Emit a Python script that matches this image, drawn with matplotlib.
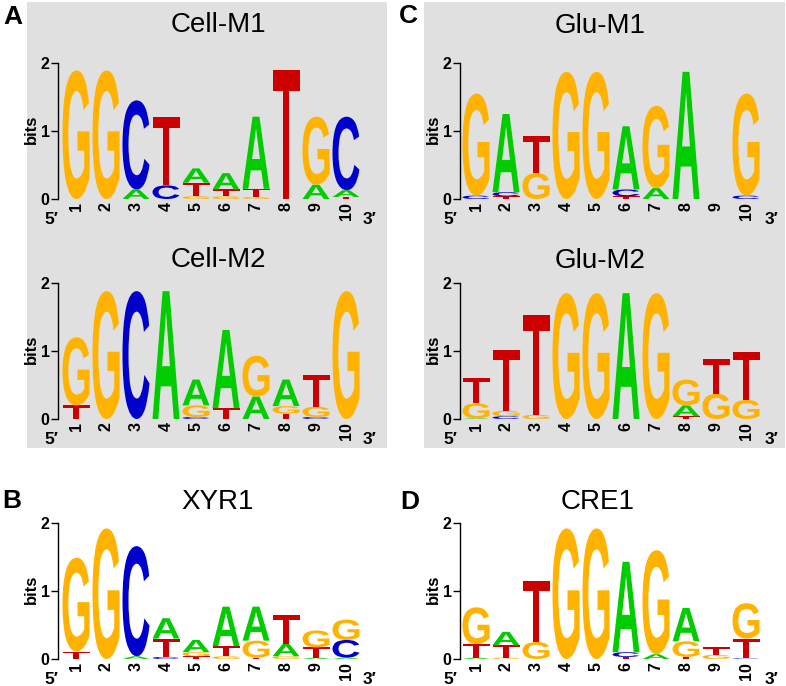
import matplotlib
matplotlib.use("Agg")
import matplotlib.pyplot as plt
from matplotlib.textpath import TextPath
from matplotlib.font_manager import FontProperties
from matplotlib.patches import PathPatch, Rectangle
from matplotlib.transforms import Affine2D

plt.rcParams['font.family'] = ['Liberation Sans', 'DejaVu Sans']

# ---- data: per-position letter stacks (bottom -> top), heights in bits ----
CELL_M1 = [
    [('G', 1.89)], [('G', 1.89)], [('A', 0.14), ('C', 1.31)], [('C', 0.20), ('T', 1.01)],
    [('G', 0.04), ('T', 0.20), ('A', 0.21)], [('G', 0.04), ('T', 0.10), ('A', 0.24)],
    [('G', 0.03), ('T', 0.12), ('A', 1.06)], [('T', 1.89)], [('A', 0.21), ('G', 1.00)],
    [('T', 0.03), ('A', 0.10), ('C', 1.08)],
]
CELL_M2 = [
    [('T', 0.20), ('G', 1.00)], [('G', 1.88)], [('C', 1.88)], [('A', 1.88)],
    [('C', 0.03), ('G', 0.17), ('A', 0.38)], [('T', 0.16), ('A', 1.15)],
    [('A', 0.33), ('G', 0.60)], [('T', 0.08), ('G', 0.11), ('A', 0.39)],
    [('C', 0.03), ('G', 0.15), ('T', 0.47)], [('G', 1.88)],
]
GLU_M1 = [
    [('C', 0.05), ('G', 1.50)], [('T', 0.04), ('C', 0.06), ('A', 1.15)],
    [('G', 0.38), ('T', 0.54)], [('G', 1.87)], [('G', 1.87)],
    [('T', 0.04), ('C', 0.10), ('A', 0.93)], [('A', 0.16), ('G', 1.21)],
    [('A', 1.87)], [], [('C', 0.05), ('G', 1.50)],
]
GLU_M2 = [
    [('A', 0.01), ('G', 0.22), ('T', 0.37)], [('C', 0.04), ('G', 0.08), ('T', 0.89)],
    [('G', 0.06), ('T', 1.47)], [('G', 1.85)], [('G', 1.85)], [('A', 1.85)], [('G', 1.85)],
    [('T', 0.04), ('A', 0.16), ('G', 0.38)], [('G', 0.37), ('T', 0.51)],
    [('G', 0.28), ('T', 0.70)],
]
XYR1 = [
    [('T', 0.11), ('G', 1.38)], [('G', 1.92)], [('A', 0.04), ('C', 1.62)],
    [('C', 0.03), ('T', 0.27), ('A', 0.30)], [('T', 0.04), ('G', 0.06), ('A', 0.18)],
    [('G', 0.04), ('T', 0.15), ('A', 0.58)], [('T', 0.02), ('G', 0.25), ('A', 0.50)],
    [('G', 0.04), ('A', 0.18), ('T', 0.43)], [('A', 0.02), ('T', 0.15), ('G', 0.25)],
    [('A', 0.02), ('C', 0.26), ('G', 0.30)],
]
CRE1 = [
    [('A', 0.02), ('T', 0.20), ('G', 0.54)], [('G', 0.02), ('T', 0.18), ('A', 0.20)],
    [('G', 0.25), ('T', 0.90)], [('G', 1.92)], [('G', 1.92)],
    [('T', 0.03), ('C', 0.07), ('A', 1.33)], [('A', 0.07), ('G', 1.53)],
    [('T', 0.03), ('G', 0.23), ('A', 0.49)], [('G', 0.06), ('T', 0.11)],
    [('C', 0.01), ('T', 0.29), ('G', 0.52)],
]
POSITIONS = [str(i) for i in range(1, 11)]
Y_TICKS = [0, 1, 2]

COLORS = {'A': '#00CC00', 'C': '#0000CC', 'G': '#FFB300', 'T': '#CC0000'}

W, H = 786, 686
fig = plt.figure(figsize=(W / 100, H / 100), dpi=100)
fig.patch.set_facecolor('white')


def fx(x):
    return x / W


def fy(y):
    return 1 - y / H


# gray backgrounds for panels A and C
for (x0, y0, x1, y1) in [(27, 2, 387, 448), (424, 2, 785, 448)]:
    fig.patches.append(Rectangle((fx(x0), fy(y1)), fx(x1 - x0), (y1 - y0) / H,
                                 transform=fig.transFigure, facecolor='#e0e0e0',
                                 edgecolor='none', zorder=-10))

FP = FontProperties(family='Liberation Sans', weight='bold')
_glyph_cache = {}


def glyph(letter):
    if letter not in _glyph_cache:
        p = TextPath((0, 0), letter, size=1, prop=FP)
        _glyph_cache[letter] = (p, p.get_extents())
    return _glyph_cache[letter]


def draw_letter(ax, letter, xc, y0, h, width=0.9):
    if h <= 0:
        return
    p, bb = glyph(letter)
    t = (Affine2D().translate(-bb.x0, -bb.y0)
         .scale(width / bb.width, h / bb.height)
         .translate(xc - width / 2, y0))
    ax.add_patch(PathPatch(t.transform_path(p), facecolor=COLORS[letter],
                           edgecolor='none', lw=0))


UNIT = 30.0   # px per position
BIT = 68.0    # px per bit


def logo(data, spine_x, center1_x, zero_y, title, title_x, title_y, prime5_x, prime3_x):
    xl = (spine_x - (center1_x - UNIT)) / UNIT
    xr = 10.6
    ytop = 2.05
    width = (xr - xl) * UNIT
    height = ytop * BIT
    ax = fig.add_axes([fx(spine_x), (H - zero_y) / H, width / W, height / H])
    ax.set_zorder(1)
    ax.set_xlim(xl, xr)
    ax.set_ylim(0, ytop)
    ax.patch.set_alpha(0)
    for s in ['top', 'right', 'bottom']:
        ax.spines[s].set_visible(False)
    ax.spines['left'].set_bounds(0, 2)
    ax.spines['left'].set_linewidth(1.0)
    ax.set_yticks(Y_TICKS)
    ax.set_yticklabels([str(v) for v in Y_TICKS], fontsize=11.5, fontweight='bold')
    ax.tick_params(axis='y', length=5, width=1.0, pad=1)
    ax.set_xticks(range(1, 11))
    ax.set_xticklabels(POSITIONS, rotation=90, fontsize=11.5, fontweight='bold')
    ax.tick_params(axis='x', length=0, pad=2)
    ax.set_ylabel('bits', fontsize=12, fontweight='bold', labelpad=1)
    for i, stack in enumerate(data):
        y = 0.0
        for letter, h in stack:
            draw_letter(ax, letter, i + 1, y, h)
            y += h
    fig.text(fx(title_x), fy(title_y), title, fontsize=20, ha='center', va='center')
    fig.text(fx(prime5_x), fy(zero_y + 20), '5\u2032', fontsize=12.5, fontweight='bold',
             ha='center', va='center')
    fig.text(fx(prime3_x), fy(zero_y + 20), '3\u2032', fontsize=12.5, fontweight='bold',
             ha='center', va='center')
    return ax


logo(CELL_M1, 58, 76, 199, 'Cell-M1', 218, 25, 51, 370)
logo(CELL_M2, 58, 76, 419, 'Cell-M2', 218, 260, 51, 370)
logo(GLU_M1, 460, 476, 199, 'Glu-M1', 600, 26, 450, 772)
logo(GLU_M2, 460, 476, 419, 'Glu-M2', 600, 261, 450, 772)
logo(XYR1, 58, 76, 659, 'XYR1', 218, 502, 51, 370)
logo(CRE1, 460, 476, 659, 'CRE1', 598, 502, 450, 772)

for lab, x, y in [('A', 13, 17), ('C', 408, 16), ('B', 12, 501), ('D', 410, 502)]:
    fig.text(fx(x), fy(y), lab, fontsize=19, fontweight='bold', ha='center', va='center')

fig.savefig('out.png', dpi=100)
